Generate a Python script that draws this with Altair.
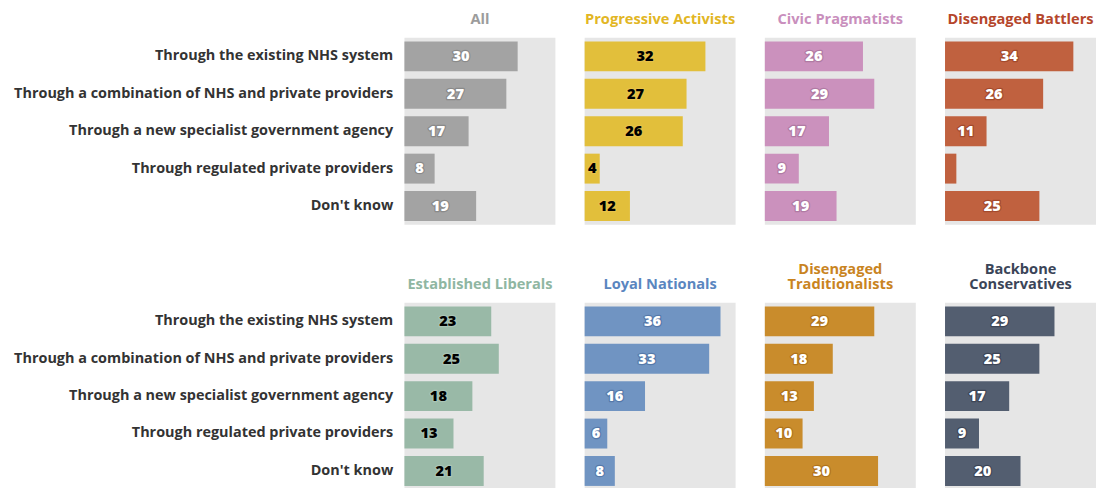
import altair as alt
import pandas as pd

categories = [
    "Through the existing NHS system",
    "Through a combination of NHS and private providers",
    "Through a new specialist government agency",
    "Through regulated private providers",
    "Don't know",
]

groups = [
    ["All"],
    ["Progressive Activists"],
    ["Civic Pragmatists"],
    ["Disengaged Battlers"],
    ["Established Liberals"],
    ["Loyal Nationals"],
    ["Disengaged", "Traditionalists"],
    ["Backbone", "Conservatives"],
]

values_all = [30, 27, 17, 8, 19]
values_progressive = [32, 27, 26, 4, 12]
values_civic = [26, 29, 17, 9, 19]
values_battlers = [34, 26, 11, 3, 25]
values_liberals = [23, 25, 18, 13, 21]
values_loyal = [36, 33, 16, 6, 8]
values_traditionalists = [29, 18, 13, 10, 30]
values_backbone = [29, 25, 17, 9, 20]

series = [values_all, values_progressive, values_civic, values_battlers,
          values_liberals, values_loyal, values_traditionalists, values_backbone]

title_colors = ["#9c9c9c", "#e2b624", "#c98fbd", "#b5462b",
                "#8fb6a2", "#5a86bf", "#c9841f", "#3b4558"]
bar_colors = ["#a3a3a3", "#e2bf3b", "#cb91bd", "#c0613f",
              "#99b9a7", "#7094c2", "#c98c2c", "#535e70"]
text_colors = ["white", "black", "white", "white",
               "black", "white", "white", "white"]
halo_colors = ["#8a8a8a", "#e8c24a", "#b07aa3", "#a44a2c",
               "#a9c4b5", "#5579aa", "#b0731a", "#3c4556"]

FONT = "Open Sans"
X_SCALE = alt.Scale(domain=[0, 40], nice=False)
Y_SCALE = alt.Scale(paddingInner=0.2, paddingOuter=0.1)


def panel(i):
    vals = series[i]
    df = pd.DataFrame({
        "cat": categories,
        "val": vals,
        "lab": [str(v) if v >= 4 else "" for v in vals],
    })
    first_col = i % 4 == 0
    if first_col:
        y_axis = alt.Axis(
            title=None, ticks=False, domain=False, labelPadding=12,
            labelFont=FONT, labelFontSize=14.8, labelFontWeight="bold",
            labelColor="#333333", labelLimit=500, minExtent=391,
        )
    else:
        y_axis = None
    y = alt.Y("cat:N", sort=categories, scale=Y_SCALE, axis=y_axis)
    base = alt.Chart(df)
    bars = base.mark_bar(color=bar_colors[i]).encode(
        x=alt.X("val:Q", scale=X_SCALE, axis=None),
        y=y,
    )
    mid = alt.X("mid:Q", scale=X_SCALE, axis=None)
    halo = base.transform_calculate(mid="datum.val / 2").mark_text(
        font=FONT, fontSize=15, fontWeight=800, align="center",
        baseline="middle", color=halo_colors[i], stroke=halo_colors[i],
        strokeWidth=2.5, strokeJoin="round",
    ).encode(x=mid, y=y, text="lab:N")
    labels = base.transform_calculate(mid="datum.val / 2").mark_text(
        font=FONT, fontSize=15, fontWeight=800, align="center",
        baseline="middle", color=text_colors[i],
    ).encode(x=mid, y=y, text="lab:N")
    title_text = groups[i] if len(groups[i]) > 1 else groups[i][0]
    return alt.layer(bars, halo, labels).properties(
        width=155, height=192,
        title=alt.TitleParams(
            text=title_text, color=title_colors[i], font=FONT, fontSize=15,
            fontWeight="bold", anchor="middle", offset=-4, lineHeight=15.5,
            baseline="bottom",
        ),
    )


panels = [panel(i) for i in range(8)]

chart = alt.concat(
    *panels, columns=4, spacing={"row": 80, "column": 30}, bounds="flush",
).properties(
    padding={"left": 5, "top": -2, "right": 0, "bottom": 0},
    background="white",
).configure_view(
    fill="#e6e6e6", strokeWidth=0,
)

chart.save("out.html", embed_options={"renderer": "svg", "actions": False})
